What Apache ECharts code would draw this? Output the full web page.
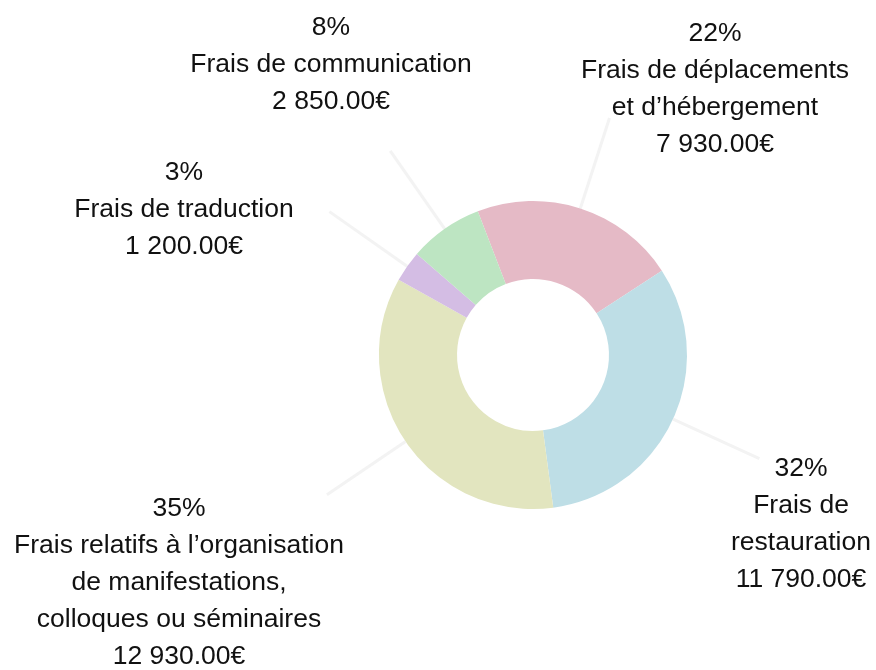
<!DOCTYPE html>
<html>
<head>
<meta charset="utf-8">
<script src="https://cdn.jsdelivr.net/npm/echarts@6/dist/echarts.min.js"></script>
<style>
  html, body { margin: 0; padding: 0; background: #fff; }
  #chart { width: 876px; height: 670px; }
</style>
</head>
<body>
<div id="chart"></div>
<script>
// categories and amounts (euros), clockwise from the top
var categories = [
    'Frais de déplacements\net d’hébergement',
    'Frais de\nrestauration',
    'Frais relatifs à l’organisation\nde manifestations,\ncolloques ou séminaires',
    'Frais de traduction',
    'Frais de communication'
];
var amounts = [7930, 11790, 12930, 1200, 2850];
var colors = ['#e5bac6', '#bedee6', '#e2e5bf', '#d4bde4', '#bde5c2'];

// where each label block sits (centre of the text)
var labelPos = [[715, 89], [801, 524], [179, 583], [184, 210], [331, 65]];

function formatEuro(v) {
    var parts = v.toFixed(2).split('.');
    return parts[0].replace(/\B(?=(\d{3})+(?!\d))/g, ' ') + '.' + parts[1] + '€';
}

var myChart = echarts.init(document.getElementById('chart'));

var data = [];
for (var i = 0; i < categories.length; i++) {
    data.push({ name: categories[i], value: amounts[i], itemStyle: { color: colors[i] } });
}

var option = {
    animation: false,
    backgroundColor: '#fff',
    series: [{
        type: 'pie',
        center: [533, 355],
        radius: [76, 154],
        startAngle: 111,
        clockwise: true,
        avoidLabelOverlap: false,
        label: {
            show: true,
            position: 'outside',
            fontFamily: 'Liberation Sans, Arial, sans-serif',
            fontSize: 26.5,
            lineHeight: 37,
            color: '#111',
            align: 'center',
            formatter: function (p) {
                return Math.round(p.percent) + '%\n' + p.name + '\n' + formatEuro(p.value);
            }
        },
        labelLine: {
            show: true,
            length: 95,
            length2: 0,
            lineStyle: { color: '#f3f3f3', width: 3 }
        },
        labelLayout: function (params) {
            var pos = labelPos[params.dataIndex];
            // keep the radial guide line as the pie drew it
            return {
                x: pos[0], y: pos[1], align: 'center', verticalAlign: 'middle',
                labelLinePoints: params.labelLinePoints
            };
        },
        data: data
    }]
};

myChart.setOption(option);
</script>
</body>
</html>
